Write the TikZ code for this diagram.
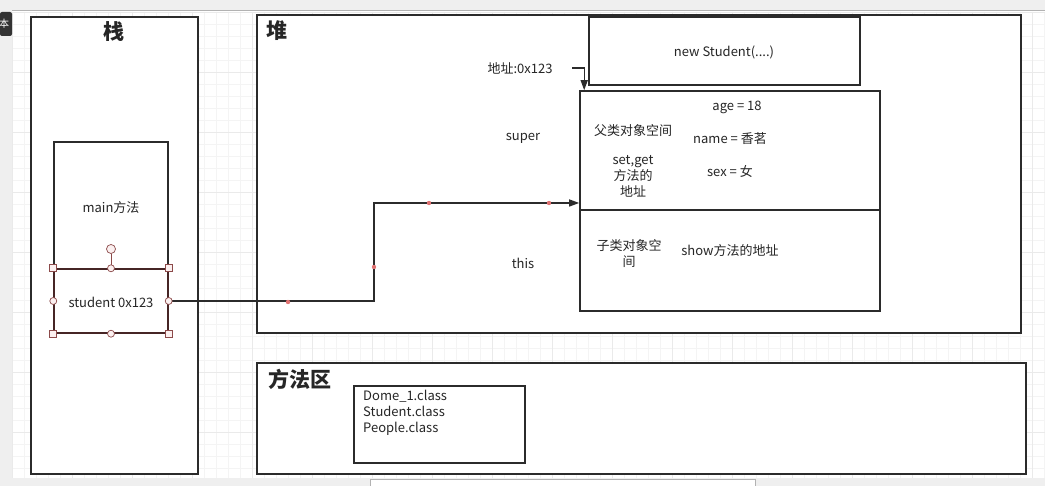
\documentclass[tikz,border=0pt]{standalone}
\usepackage{fontspec}
\setmainfont{Noto Sans CJK SC}
\usetikzlibrary{arrows.meta}

\definecolor{frameline}{HTML}{2B2B2B}
\definecolor{gridline}{HTML}{F4F4F4}
\definecolor{gridmajor}{HTML}{EAEAEA}
\definecolor{handle}{HTML}{8C4A4A}
\definecolor{handlefill}{HTML}{FBF0F0}
\definecolor{waypt}{HTML}{E07272}
\definecolor{uibar}{HTML}{EFEFEF}

\begin{document}
\begin{tikzpicture}[x=1pt,y=-1pt,
	box/.style={draw=frameline,line width=1.6pt,fill=white,inner sep=0pt},
	lbl/.style={font=\fontsize{13}{16}\selectfont,text=black!85,inner sep=1pt,align=center},
	title/.style={font=\fontsize{21}{24}\selectfont\bfseries,text=black!85,inner sep=0pt},
	conn/.style={draw=frameline,line width=1.4pt,-{Triangle[length=10pt,width=7pt]}},
	grab/.style={draw=handle,fill=handlefill,line width=0.7pt,inner sep=0pt,minimum size=6pt},
]
	\useasboundingbox (0,0) rectangle (1045,486);
	\fill[white] (0,0) rectangle (1045,486);

	% canvas grid
	\foreach \gx in {12,24,...,1044}
		\draw[gridline,line width=0.5pt] (\gx,12) -- (\gx,478);
	\foreach \gy in {12,24,...,477}
		\draw[gridline,line width=0.5pt] (12,\gy) -- (1045,\gy);
	\foreach \gx in {12,72,...,1044}
		\draw[gridmajor,line width=0.6pt] (\gx,12) -- (\gx,478);
	\foreach \gy in {12,72,...,477}
		\draw[gridmajor,line width=0.6pt] (12,\gy) -- (1045,\gy);

	% editor bars
	\fill[uibar] (0,0) rectangle (1045,10);
	\draw[black!30] (0,10.5) -- (1045,10.5);
	\fill[uibar] (0,10.5) rectangle (12,478);
	\fill[black!80,rounded corners=2pt] (0,12) rectangle (12,36);
	\node[text=white,font=\fontsize{10}{10}\selectfont,inner sep=0pt] (tab) at (4,24) {本};
	\fill[uibar] (0,478) rectangle (1045,486);
	\draw[black!30,fill=white] (370,479) rectangle (755,486);

	% frames
	\node[box,minimum width=167,minimum height=457] (stack) at (114.5,245.5) {};
	\node[box,minimum width=764,minimum height=318] (heap) at (639,174) {};
	\node[box,minimum width=769,minimum height=111] (methodarea) at (641.5,418.5) {};
	\node[title] (stacktitle) at (114,32) {栈};
	\node[title] (heaptitle) at (277,31) {堆};
	\node[title] (methodtitle) at (300,379) {方法区};

	% stack content
	\node[box,line width=1.4pt,minimum width=114,minimum height=127] (mainbox) at (111,205.5) {};
	\node[lbl] (maintext) at (111,208) {main方法};
	\node[box,draw=handle!50!black,line width=1.4pt,minimum width=114,minimum height=64] (stubox) at (111,301) {};
	\node[lbl] (stutext) at (111,302) {student 0x123};

	% heap content
	\node[box,minimum width=271,minimum height=68] (newstu) at (724.5,51) {};
	\node[lbl] (newtext) at (724,52) {new Student(....)};
	\node[box,minimum width=300,minimum height=119] (supbox) at (730,150.5) {};
	\node[box,minimum width=300,minimum height=101] (subbox) at (730,260.5) {};
	\node[lbl] (addr) at (520,68) {地址:0x123};
	\node[lbl] (super) at (523,138) {super};
	\node[lbl] (this) at (523,263) {this};
	\node[lbl] (parentspace) at (633,131) {父类对象空间};
	\node[lbl] (setget) at (633,176) {set,get\\方法的\\地址};
	\node[lbl] (age) at (737,107) {age = 18};
	\node[lbl] (name) at (730,139) {name = 香茗};
	\node[lbl] (sex) at (730,171) {sex = 女};
	\node[lbl] (childspace) at (629,254) {子类对象空\\间};
	\node[lbl] (show) at (730,251) {show方法的地址};

	% method area content
	\node[box,line width=1.4pt,minimum width=171,minimum height=77] (classbox) at (439.5,424.5) {};
	\node[lbl,align=left,anchor=north west] (classes) at (362,389) {Dome\_1.class\\Student.class\\People.class};

	% references
	\coordinate (addrout) at (572,68);
	\coordinate (bend) at (374,203);
	\draw[conn] (addrout) -| ([xshift=5]supbox.north west);
	\draw[conn] (stubox.east) -| (bend) -- (supbox.west |- bend);
	\foreach \p in {(288,302),(374,267),(429,203),(549,203)}
		\fill[waypt] \p circle (2.2);

	% selection handles
	\draw[handle,line width=0.8pt] (111,254) -- (stubox.north);
	\node[grab,circle,minimum size=9pt] (rot) at (111,249) {};
	\foreach \a in {north west,north east,south west,south east}
		\node[grab,rectangle,minimum size=7pt] at (stubox.\a) {};
	\foreach \a in {north,south,west,east}
		\node[grab,circle,minimum size=7pt] at (stubox.\a) {};
\end{tikzpicture}
\end{document}
